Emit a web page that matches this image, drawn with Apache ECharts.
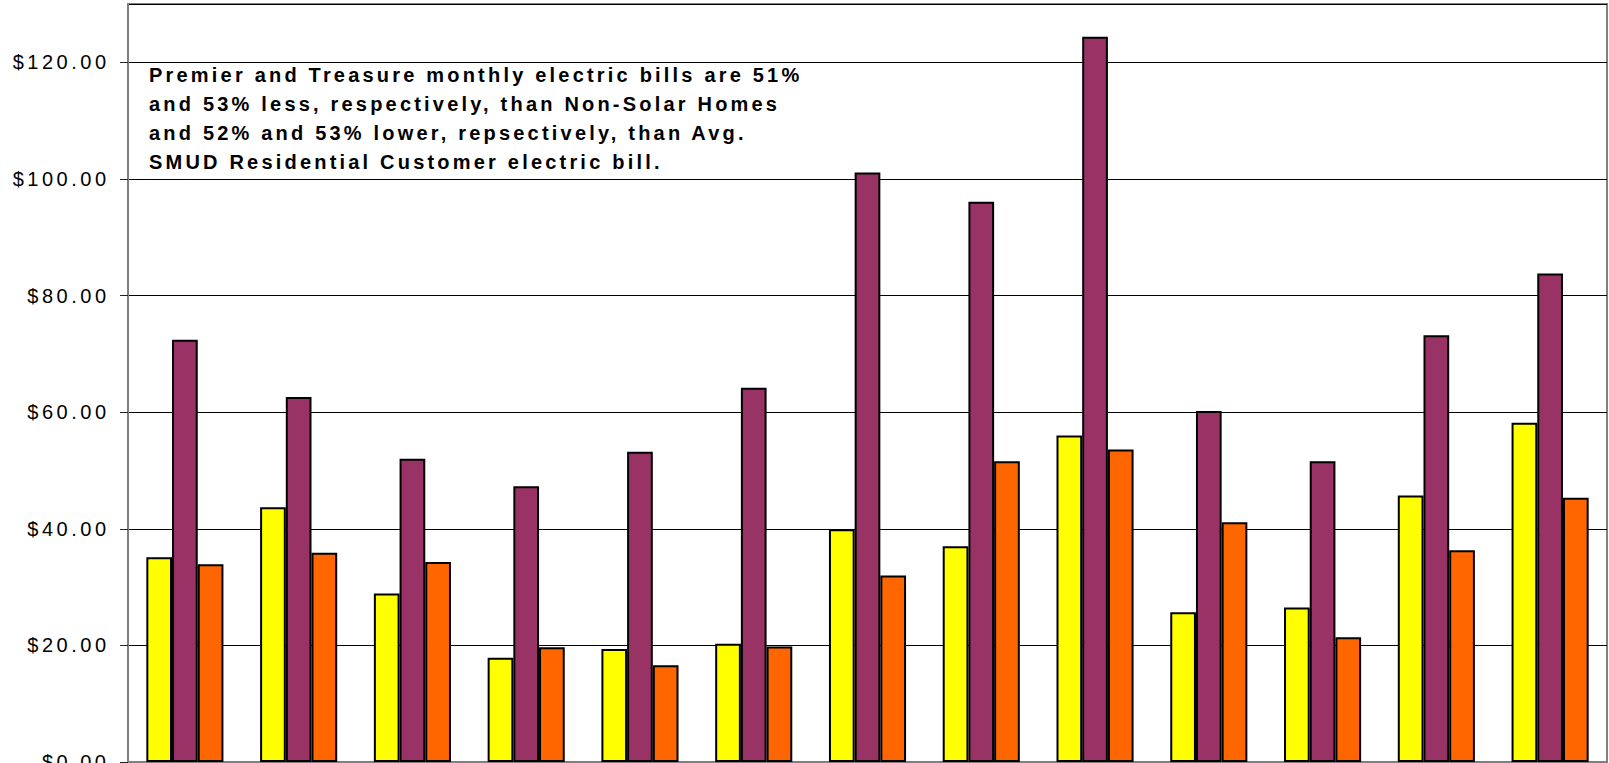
<!DOCTYPE html>
<html>
<head>
<meta charset="utf-8">
<script src="https://cdn.jsdelivr.net/npm/echarts@6/dist/echarts.min.js"></script>
<style>
  html, body { margin: 0; padding: 0; background: #fff; overflow: hidden; }
  /* The chart runs past the bottom of the window; the view ends at the zero line */
  #chart { width: 1609px; height: 790px; }
  /* Spaced-out lettering of the annotation and the value axis */
  #chart svg text { letter-spacing: 3.2px; }
  #chart svg text[text-anchor="end"] { letter-spacing: 3.5px; }
</style>
</head>
<body>
<div id="chart"></div>
<script>
// Monthly electric bills, Dec-03 through Dec-04
const months = ['Dec-03', 'Jan-04', 'Feb-04', 'Mar-04', 'Apr-04', 'May-04', 'Jun-04',
                'Jul-04', 'Aug-04', 'Sep-04', 'Oct-04', 'Nov-04', 'Dec-04'];
const premierBills  = [35.1, 43.7, 28.9, 17.9, 19.4, 20.3, 39.9, 37.0, 56.0, 25.7, 26.5, 45.7, 58.2];
const nonSolarBills = [72.4, 62.6, 52.0, 47.3, 53.2, 64.2, 101.1, 96.1, 124.4, 60.2, 51.6, 73.2, 83.8];
const treasureBills = [33.9, 35.9, 34.3, 19.7, 16.6, 19.8, 32.0, 51.6, 53.6, 41.1, 21.4, 36.3, 45.3];
const noteLines = [
  'Premier and Treasure monthly electric bills are 51%',
  'and 53% less, respectively, than Non-Solar Homes',
  'and 52% and 53% lower, repsectively, than Avg.',
  'SMUD Residential Customer electric bill.'
];

const FONT = '"Liberation Sans", Arial, sans-serif';
const chart = echarts.init(document.getElementById('chart'), null, { renderer: 'svg' });

function barSeries(name, data, color) {
  return {
    name: name,
    type: 'bar',
    data: data,
    barWidth: 25.7,
    barGap: '0%',
    itemStyle: { color: color, borderColor: '#000', borderWidth: 2 },
    emphasis: { disabled: true }
  };
}

chart.setOption({
  animation: false,
  backgroundColor: '#fff',
  grid: {
    left: 128, right: 2, top: 4, bottom: 28,
    show: true, borderColor: '#808080', borderWidth: 2,
    containLabel: false
  },
  xAxis: {
    type: 'category',
    data: months,
    axisLine: { lineStyle: { color: '#808080', width: 2 } },
    axisTick: { show: false },
    axisLabel: { show: false }
  },
  yAxis: {
    type: 'value',
    min: 0, max: 130, interval: 20,
    axisLine: { show: true, lineStyle: { color: '#808080', width: 2 } },
    axisTick: { show: true, length: 8, lineStyle: { color: '#222', width: 1 } },
    splitLine: { lineStyle: { color: '#000', width: 1 } },
    axisLabel: {
      showMaxLabel: false,
      margin: 18.5,
      verticalAlign: 'middle',
      fontFamily: FONT,
      fontSize: 20,
      color: '#000',
      formatter: v => '$' + v.toFixed(2)
    }
  },
  series: [
    barSeries('Premier', premierBills, '#FFFF00'),
    barSeries('Non-Solar Homes', nonSolarBills, '#993366'),
    barSeries('Treasure', treasureBills, '#FF6600')
  ],
  graphic: [{
    type: 'text',
    left: 149,
    top: 60.5,
    z: 100,
    style: {
      text: noteLines.join('\n'),
      font: 'bold 20px ' + FONT,
      lineHeight: 28.9,
      fill: '#000'
    }
  }]
});
</script>
</body>
</html>
